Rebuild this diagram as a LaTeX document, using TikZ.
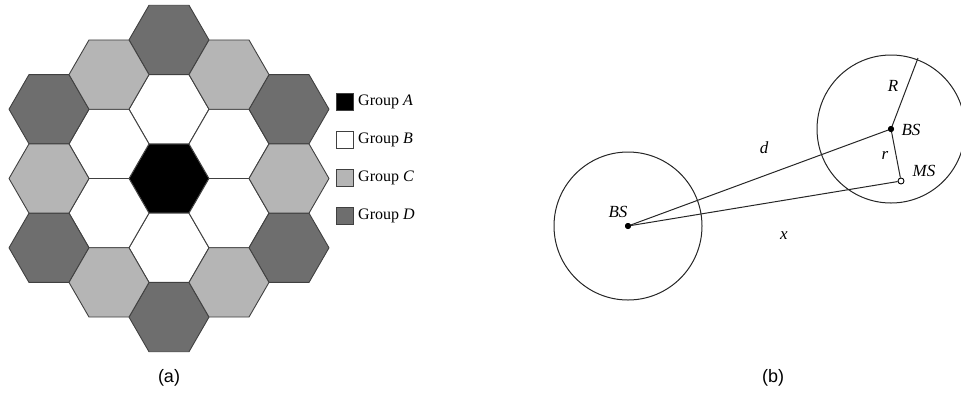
\documentclass[tikz,border=0pt]{standalone}
\usepackage{fontspec}
\setmainfont{Liberation Serif}
\newfontfamily\capfont{Liberation Sans}
\usetikzlibrary{calc}
\definecolor{grpC}{gray}{0.71}
\definecolor{grpD}{gray}{0.43}
\definecolor{edgegray}{gray}{0.25}
\tikzset{
  cell/.style={draw=edgegray, line width=0.9pt, line join=round},
  swatch/.style={draw=edgegray, line width=1pt, minimum width=17pt, minimum height=17pt, inner sep=0pt},
  legtext/.style={anchor=west, font=\fontsize{16}{19}\selectfont, inner sep=0pt},
  lbl/.style={font=\fontsize{17}{20}\selectfont\itshape, inner sep=0pt},
  caption/.style={font=\capfont\fontsize{18}{22}\selectfont, inner sep=0pt},
  wire/.style={draw=black!85, line width=1pt},
  bsdot/.style={circle, fill=black, minimum size=6pt, inner sep=0pt},
  msdot/.style={circle, draw=black, fill=white, line width=0.9pt, minimum size=6pt, inner sep=0pt},
}
% flat-topped hexagonal cell of circumradius 40 centred at (#1,#2)
\newcommand\hexcell[3]{%
  \path[cell, fill=#3] (#1,#2) ++(40,0) -- ++(-20,34.64) -- ++(-40,0)
    -- ++(-20,-34.64) -- ++(20,-34.64) -- ++(40,0) -- cycle;}
\begin{document}
\begin{tikzpicture}[x=1pt, y=-1pt]
  \useasboundingbox (0,0) rectangle (961,400);

  % ---- (a) cluster of 19 cells ----
  \hexcell{169}{178.5}{black}
  \foreach \x/\y in {169/109.2, 169/247.8, 109/143.9, 229/143.9, 109/213.1, 229/213.1}
    {\hexcell{\x}{\y}{white}}
  \foreach \x/\y in {169/39.9, 169/317.1, 49/109.2, 289/109.2, 49/247.8, 289/247.8}
    {\hexcell{\x}{\y}{grpD}}
  \foreach \x/\y in {109/74.6, 229/74.6, 109/282.4, 229/282.4, 49/178.5, 289/178.5}
    {\hexcell{\x}{\y}{grpC}}

  % legend
  \node[swatch, fill=black] (swA) at (345,102) {};
  \node[swatch, fill=white] (swB) at (345,140) {};
  \node[swatch, fill=grpC]  (swC) at (345,178) {};
  \node[swatch, fill=grpD]  (swD) at (345,216) {};
  \node[legtext] (tA) at (358,102) {Group \textit{A}};
  \node[legtext] (tB) at (358,140) {Group \textit{B}};
  \node[legtext] (tC) at (358,178) {Group \textit{C}};
  \node[legtext] (tD) at (358,216) {Group \textit{D}};

  \node[caption] (capa) at (169,378) {(a)};

  % ---- (b) two cells, base stations and a mobile ----
  \coordinate (bs1c) at (628,226);
  \coordinate (bs2c) at (891,129);
  \draw[wire] (bs1c) circle[radius=74];
  \draw[wire] (bs2c) circle[radius=74];
  \coordinate (redge) at ($(bs2c)+(27,-71)$);

  \node[bsdot] (bs1) at (bs1c) {};
  \node[bsdot] (bs2) at (bs2c) {};
  \node[msdot] (ms) at (901,181) {};

  \draw[wire] (bs1.center) -- (bs2.center);
  \draw[wire] (bs1.center) -- (ms);
  \draw[wire] (bs2.center) -- (ms);
  \draw[wire] (bs2.center) -- (redge);
  \node[bsdot] at (bs1c) {};
  \node[bsdot] at (bs2c) {};

  \node[lbl] (lbs1) at (618,212) {BS};
  \node[lbl] (lbs2) at (911,130) {BS};
  \node[lbl] (lms) at (924,171) {MS};
  \node[lbl] (lR) at (893,86) {R};
  \node[lbl] (lr) at (885,155) {r};
  \node[lbl] (ld) at (764,148) {d};
  \node[lbl] (lx) at (784,236) {x};

  \node[caption] (capb) at (773,378) {(b)};
\end{tikzpicture}
\end{document}
